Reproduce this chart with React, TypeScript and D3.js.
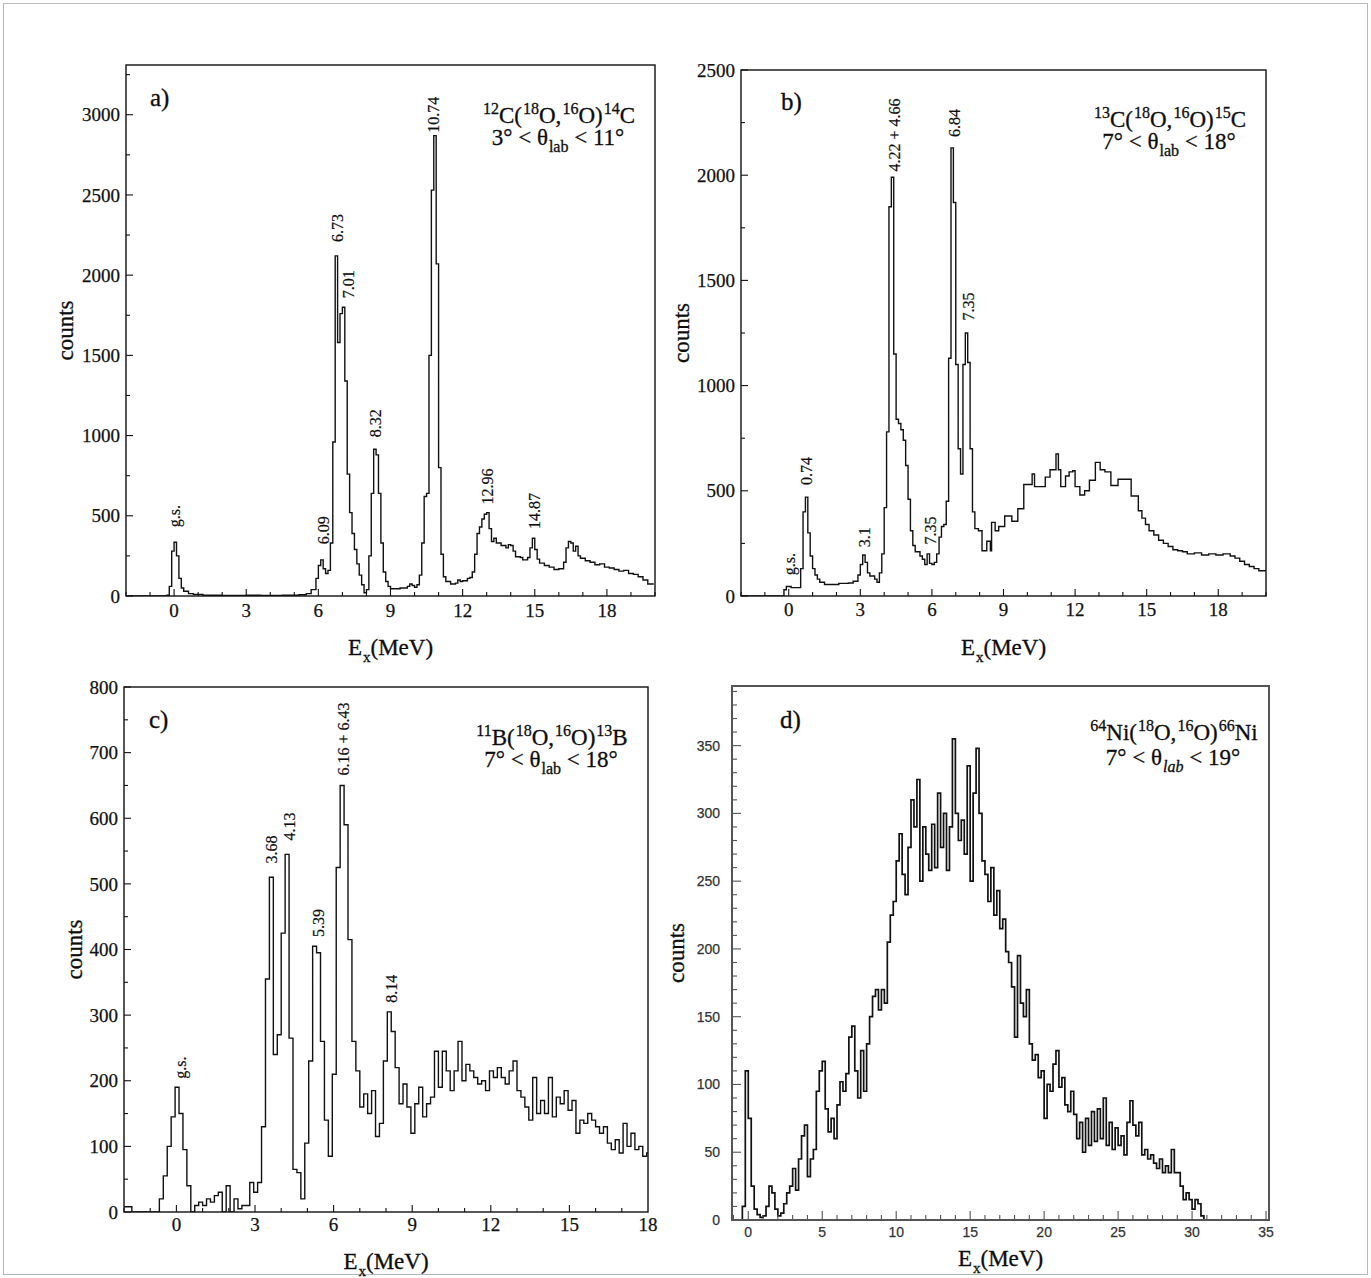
import React from 'react';
import { scaleLinear, line, curveStepAfter, range } from 'd3';

const SERIF = '"Liberation Serif", "Times New Roman", Times, serif';
const SANS = '"Liberation Sans", Arial, Helvetica, sans-serif';

type Pt = [number, number];
type Part = [string, 'n' | 'sup' | 'sub', boolean?];

// ---------- a) 12C(18O,16O)14C : [bin start (MeV), counts] ----------
const aSpectrum: Pt[] = [
  [-2.0, 0], [-0.3, 5], [-0.2, 60], [-0.1, 280], [0.0, 335], [0.1, 250], [0.2, 110], [0.3, 50], [0.4, 30], [0.6, 15],
  [0.8, 10], [1.2, 5], [2.0, 3], [3.0, 5], [3.6, 3], [4.5, 5], [5.2, 8], [5.5, 15], [5.7, 40], [5.9, 110],
  [6.0, 190], [6.1, 225], [6.2, 170], [6.3, 140], [6.4, 160], [6.5, 330], [6.6, 960], [6.7, 2120], [6.8, 1580], [6.9, 1760],
  [7.0, 1800], [7.1, 1340], [7.2, 760], [7.3, 520], [7.4, 390], [7.5, 290], [7.6, 200], [7.7, 130], [7.8, 70], [7.9, 20],
  [8.0, 40], [8.1, 250], [8.2, 640], [8.3, 915], [8.4, 880], [8.5, 640], [8.6, 330], [8.7, 150], [8.8, 90], [8.9, 60],
  [9.0, 45], [9.4, 50], [9.7, 60], [9.8, 75], [9.9, 65], [10.0, 55], [10.1, 70], [10.2, 130], [10.3, 330], [10.4, 620],
  [10.5, 640], [10.6, 1500], [10.7, 2530], [10.8, 2870], [10.9, 2070], [11.0, 800], [11.1, 260], [11.2, 120], [11.3, 90], [11.5, 75],
  [11.7, 80], [11.8, 100], [11.9, 90], [12.0, 95], [12.2, 110], [12.3, 115], [12.4, 150], [12.5, 260], [12.6, 390], [12.7, 430],
  [12.8, 480], [12.9, 510], [13.0, 520], [13.1, 420], [13.2, 340], [13.3, 360], [13.4, 330], [13.6, 315], [13.8, 300], [13.9, 320],
  [14.0, 315], [14.1, 280], [14.2, 245], [14.4, 240], [14.5, 225], [14.7, 240], [14.8, 300], [14.9, 360], [15.0, 290], [15.1, 230],
  [15.2, 205], [15.4, 190], [15.6, 180], [15.8, 165], [16.0, 170], [16.2, 210], [16.3, 300], [16.4, 340], [16.5, 330], [16.6, 280],
  [16.7, 310], [16.8, 250], [16.9, 235], [17.1, 220], [17.3, 210], [17.5, 195], [17.7, 200], [17.9, 180], [18.1, 175], [18.3, 165],
  [18.5, 155], [18.7, 160], [18.9, 140], [19.1, 135], [19.3, 120], [19.5, 100], [19.7, 75],
];
const aEnd = 19.95;
const aXTicks = [0, 3, 6, 9, 12, 15, 18];
const aYTicks = [0, 500, 1000, 1500, 2000, 2500, 3000];
const aPeakText = ['g.s.', '6.09', '6.73', '7.01', '8.32', '10.74', '12.96', '14.87'];
const aPeakEx = [0.03, 6.2, 6.8, 7.24, 8.38, 10.79, 13.03, 14.98];
const aPeakY = [429, 322, 2207, 1856, 989, 2888, 571, 417];

// ---------- b) 13C(18O,16O)15C ----------
const bSpectrum: Pt[] = [
  [-2.0, 0], [-0.2, 30], [-0.1, 45], [0.1, 40], [0.3, 40], [0.5, 130], [0.6, 400], [0.7, 470], [0.8, 300], [0.9, 190],
  [1.0, 130], [1.1, 100], [1.2, 80], [1.3, 65], [1.5, 55], [1.8, 55], [2.1, 60], [2.5, 62], [2.7, 70], [2.9, 100],
  [3.0, 150], [3.1, 195], [3.2, 160], [3.3, 110], [3.4, 95], [3.6, 80], [3.7, 65], [3.8, 110], [3.9, 200], [4.0, 420],
  [4.1, 780], [4.2, 1850], [4.3, 1990], [4.4, 1150], [4.5, 840], [4.6, 820], [4.7, 790], [4.8, 740], [4.9, 620], [5.0, 460],
  [5.1, 310], [5.2, 240], [5.3, 210], [5.5, 190], [5.6, 175], [5.7, 150], [5.8, 200], [5.9, 155], [6.0, 150], [6.1, 160],
  [6.2, 200], [6.3, 280], [6.4, 330], [6.5, 340], [6.6, 450], [6.7, 1130], [6.8, 2130], [6.9, 1870], [7.0, 1100], [7.1, 700],
  [7.2, 580], [7.3, 1100], [7.4, 1250], [7.5, 1110], [7.6, 700], [7.7, 400], [7.8, 320], [7.95, 310], [8.1, 215], [8.3, 260],
  [8.45, 215], [8.5, 350], [8.65, 310], [8.8, 330], [9.05, 380], [9.35, 355], [9.6, 415], [9.85, 530], [10.2, 580], [10.3, 520],
  [10.75, 565], [10.95, 600], [11.2, 675], [11.3, 600], [11.4, 520], [11.6, 570], [11.75, 590], [11.9, 595], [12.0, 520], [12.2, 480],
  [12.4, 500], [12.6, 550], [12.85, 635], [13.05, 600], [13.25, 590], [13.5, 525], [13.8, 555], [14.35, 475], [14.65, 405], [14.8, 370],
  [14.95, 340], [15.1, 310], [15.3, 290], [15.5, 265], [15.7, 250], [15.9, 235], [16.1, 220], [16.3, 215], [16.5, 210], [16.7, 200],
  [17.0, 205], [17.3, 195], [17.6, 200], [17.9, 195], [18.2, 200], [18.5, 190], [18.7, 180], [18.9, 165], [19.1, 150], [19.3, 140],
  [19.5, 130], [19.7, 120],
];
const bEnd = 20;
const bXTicks = [0, 3, 6, 9, 12, 15, 18];
const bYTicks = [0, 500, 1000, 1500, 2000, 2500];
const bPeakText = ['g.s.', '0.74', '3.1', '4.22 + 4.66', '7.35', '6.84', '7.35'];
const bPeakEx = [0.03, 0.73, 3.18, 4.41, 5.92, 6.95, 7.53];
const bPeakY = [99, 527, 232, 2018, 245, 2182, 1310];

// ---------- c) 11B(18O,16O)13B : bins of 0.15 MeV from -2 MeV ----------
const cStart = -2.0;
const cWidth = 0.15;
const cCounts = [
  8, 8, 0, 0, 0, 0, 0, 0, 0, 20,
  55, 100, 145, 190, 150, 95, 40, 0, 10, 15,
  10, 20, 15, 25, 30, 0, 40, 0, 20, 5,
  10, 10, 45, 30, 45, 130, 355, 510, 240, 270,
  425, 545, 265, 65, 60, 20, 105, 230, 405, 395,
  260, 140, 85, 210, 525, 650, 590, 415, 260, 215,
  160, 180, 150, 185, 115, 135, 230, 305, 275, 220,
  165, 195, 160, 120, 165, 190, 145, 165, 175, 245,
  190, 245, 215, 185, 215, 260, 200, 225, 215, 205,
  195, 200, 185, 215, 205, 220, 205, 195, 215, 230,
  185, 175, 160, 140, 205, 150, 170, 150, 205, 145,
  175, 165, 185, 155, 170, 120, 140, 135, 150, 140,
  130, 120, 130, 105, 95, 110, 90, 135, 100, 120,
  95, 100, 85, 90,
];
const cXTicks = [0, 3, 6, 9, 12, 15, 18];
const cYTicks = [0, 100, 200, 300, 400, 500, 600, 700, 800];
const cPeakText = ['g.s.', '3.68', '4.13', '5.39', '6.16 + 6.43', '8.14'];
const cPeakEx = [0.17, 3.62, 4.3, 5.42, 6.38, 8.2];
const cPeakY = [203, 531, 566, 419, 665, 319];

// ---------- d) 64Ni(18O,16O)66Ni : bins of 0.2 MeV from -1 MeV ----------
const dStart = -1.0;
const dWidth = 0.2;
const dCounts = [
  0, 0, 0, 10, 110, 75, 25, 8, 4, 2,
  3, 10, 25, 20, 8, 3, 5, 12, 20, 25,
  38, 22, 45, 62, 70, 32, 45, 52, 95, 110,
  117, 82, 65, 75, 60, 85, 102, 95, 108, 135,
  143, 110, 90, 125, 95, 130, 150, 165, 170, 155,
  170, 160, 205, 225, 235, 265, 285, 255, 240, 275,
  310, 290, 325, 250, 290, 270, 258, 292, 260, 315,
  275, 300, 258, 290, 355, 300, 280, 295, 270, 335,
  250, 315, 348, 300, 265, 255, 235, 260, 225, 243,
  215, 222, 198, 190, 172, 135, 195, 160, 150, 170,
  130, 118, 122, 105, 110, 75, 100, 95, 115, 125,
  98, 105, 85, 80, 95, 78, 60, 72, 50, 75,
  55, 80, 58, 82, 60, 90, 55, 72, 52, 68,
  55, 62, 48, 72, 88, 70, 62, 72, 48, 52,
  45, 48, 42, 38, 45, 35, 40, 35, 52, 35,
  35, 25, 15, 20, 15, 8, 15, 12, 3, 0,
  0, 0, 0, 0, 0,
];
const dXTicks = [0, 5, 10, 15, 20, 25, 30, 35];
const dYTicks = [0, 50, 100, 150, 200, 250, 300, 350];

const toBins = (start: number, width: number, counts: number[]): Pt[] =>
  counts.map((c, i) => [start + i * width, c] as Pt);

const reactA: Part[] = [['12', 'sup'], ['C(', 'n'], ['18', 'sup'], ['O,', 'n'], ['16', 'sup'], ['O)', 'n'], ['14', 'sup'], ['C', 'n']];
const angleA: Part[] = [['3° < θ', 'n'], ['lab', 'sub'], [' < 11°', 'n']];
const reactB: Part[] = [['13', 'sup'], ['C(', 'n'], ['18', 'sup'], ['O,', 'n'], ['16', 'sup'], ['O)', 'n'], ['15', 'sup'], ['C', 'n']];
const angleB: Part[] = [['7° < θ', 'n'], ['lab', 'sub'], [' < 18°', 'n']];
const reactC: Part[] = [['11', 'sup'], ['B(', 'n'], ['18', 'sup'], ['O,', 'n'], ['16', 'sup'], ['O)', 'n'], ['13', 'sup'], ['B', 'n']];
const angleC: Part[] = [['7° < θ', 'n'], ['lab', 'sub'], [' < 18°', 'n']];
const reactD: Part[] = [['64', 'sup'], ['Ni(', 'n'], ['18', 'sup'], ['O,', 'n'], ['16', 'sup'], ['O)', 'n'], ['66', 'sup'], ['Ni', 'n']];
const angleD: Part[] = [['7° < θ', 'n'], ['lab', 'sub', true], [' < 19°', 'n']];

const INK = '#0d0d0d';

const Rich = ({ parts, x, y, size, small }: { parts: Part[]; x: number; y: number; size: number; small: number }) => {
  let cur = 0;
  return (
    <text x={x} y={y} textAnchor="middle" fontFamily={SERIF} fontSize={size} fill={INK}
      stroke={INK} strokeWidth={0.3} style={{ whiteSpace: 'pre' }}>
      {parts.map(([t, k, it], i) => {
        const target = k === 'sup' ? -size * 0.4 : k === 'sub' ? size * 0.3 : 0;
        const dy = target - cur;
        cur = target;
        return (
          <tspan key={i} dy={dy} dx={k === 'n' ? 0 : 1} fontSize={k === 'n' ? size : small}
            fontStyle={it ? 'italic' : undefined}>{t}</tspan>
        );
      })}
    </text>
  );
};

type PanelProps = {
  id: string;
  left: number; right: number; top: number; bottom: number;
  xDomain: [number, number]; yDomain: [number, number];
  xTicks: number[]; yTicks: number[]; xMinorStep: number; yMinorStep: number;
  spectrum: Pt[]; end: number; lineWidth: number;
  peakText: string[]; peakEx: number[]; peakY: number[];
  letter: string; letterX: number; letterY: number;
  react: Part[]; angle: Part[]; textDx: number; line1Dy: number; line2Dy: number;
  countsX: number; titleDy: number;
  tickFont: string; tickFontSize: number; tickColor: string; yLabelGap: number; xLabelDy: number;
  majorLen: number; minorLen: number; frameColor: string; frameWidth: number;
};

const Panel = (p: PanelProps) => {
  const x = scaleLinear().domain(p.xDomain).range([p.left, p.right]);
  const y = scaleLinear().domain(p.yDomain).range([p.bottom, p.top]);
  const last = p.spectrum[p.spectrum.length - 1];
  const pts: Pt[] = [...p.spectrum, [p.end, last[1]]];
  const path = line<Pt>().x(d => x(d[0])).y(d => y(d[1])).curve(curveStepAfter)(pts) || '';
  const isMajor = (v: number, majors: number[]) => majors.some(m => Math.abs(m - v) < 1e-6);
  const xMinor = range(Math.ceil(p.xDomain[0] / p.xMinorStep) * p.xMinorStep, p.xDomain[1] + 1e-6, p.xMinorStep)
    .filter(v => !isMajor(v, p.xTicks));
  const yMinor = range(p.yDomain[0], p.yDomain[1] + 1e-6, p.yMinorStep).filter(v => !isMajor(v, p.yTicks));
  const cx = (p.left + p.right) / 2;
  const cy = (p.top + p.bottom) / 2;
  return (
    <g>
      <defs>
        <clipPath id={`clip-${p.id}`}>
          <rect x={p.left} y={p.top - 2} width={p.right - p.left} height={p.bottom - p.top + 2} />
        </clipPath>
      </defs>
      <path d={path} fill="none" stroke="#111" strokeWidth={p.lineWidth} clipPath={`url(#clip-${p.id})`} />
      <g stroke={p.frameColor} strokeWidth={1.1}>
        {p.xTicks.filter(v => x(v) > p.left + 1 && x(v) < p.right - 1).map(v => (
          <line key={`xt${v}`} x1={x(v)} x2={x(v)} y1={p.bottom} y2={p.bottom - p.majorLen} />
        ))}
        {xMinor.map(v => (
          <line key={`xm${v}`} x1={x(v)} x2={x(v)} y1={p.bottom} y2={p.bottom - p.minorLen} />
        ))}
        {p.yTicks.map(v => (
          <line key={`yt${v}`} x1={p.left} x2={p.left + p.majorLen} y1={y(v)} y2={y(v)} />
        ))}
        {yMinor.map(v => (
          <line key={`ym${v}`} x1={p.left} x2={p.left + p.minorLen} y1={y(v)} y2={y(v)} />
        ))}
      </g>
      <rect x={p.left} y={p.top} width={p.right - p.left} height={p.bottom - p.top}
        fill="none" stroke={p.frameColor} strokeWidth={p.frameWidth} />
      <g fontFamily={p.tickFont} fontSize={p.tickFontSize} fill={p.tickColor} stroke={p.tickColor} strokeWidth={0.25}>
        {p.xTicks.map(v => (
          <text key={`xl${v}`} x={x(v)} y={p.bottom + p.xLabelDy} textAnchor="middle">{v}</text>
        ))}
        {p.yTicks.map(v => (
          <text key={`yl${v}`} x={p.left - p.yLabelGap} y={y(v)} dy="0.35em" textAnchor="end">{v}</text>
        ))}
      </g>
      <g fontFamily={SERIF} fontSize={16} fill={INK} stroke={INK} strokeWidth={0.2}>
        {p.peakText.map((t, i) => (
          <text key={`pk${i}`} transform={`translate(${x(p.peakEx[i])},${y(p.peakY[i])}) rotate(-90)`} dy="0.35em">{t}</text>
        ))}
      </g>
      <text x={p.left + p.letterX} y={p.top + p.letterY} fontFamily={SERIF} fontSize={25} fill={INK}
        stroke={INK} strokeWidth={0.3}>{p.letter}</text>
      <Rich parts={p.react} x={p.right - p.textDx} y={p.top + p.line1Dy} size={23} small={16} />
      <Rich parts={p.angle} x={p.right - p.textDx} y={p.top + p.line2Dy} size={23} small={16} />
      <text transform={`translate(${p.countsX},${cy}) rotate(-90)`} dy="0.25em" textAnchor="middle"
        fontFamily={SERIF} fontSize={23} fill={INK} stroke={INK} strokeWidth={0.3}>counts</text>
      <Rich parts={[['E', 'n'], ['x', 'sub'], ['(MeV)', 'n']]} x={cx} y={p.bottom + p.titleDy} size={23} small={15} />
    </g>
  );
};

const common = {
  xMinorStep: 1, lineWidth: 1.4,
  tickFont: SERIF, tickFontSize: 19, tickColor: '#111', yLabelGap: 6,
  majorLen: 7, minorLen: 4, frameColor: '#111', frameWidth: 1.4,
  textDx: 97, line1Dy: 58, line2Dy: 80,
};

const App = () => (
  <svg width={1371} height={1278} style={{ position: 'absolute', left: 0, top: 0, display: 'block', background: '#fff' }}>
    <rect x={3.5} y={3.5} width={1364} height={1271} fill="none" stroke="#b8b8b8" strokeWidth={1} />
    <Panel {...common} id="a" left={126} right={655} top={65} bottom={596}
      xDomain={[-2, 20]} yDomain={[0, 3310]} xTicks={aXTicks} yTicks={aYTicks} yMinorStep={250}
      spectrum={aSpectrum} end={aEnd} peakText={aPeakText} peakEx={aPeakEx} peakY={aPeakY}
      letter="a)" letterX={24} letterY={41} react={reactA} angle={angleA}
      countsX={67} titleDy={59} xLabelDy={21} />
    <Panel {...common} id="b" left={741} right={1266} top={70} bottom={596}
      xDomain={[-2, 20]} yDomain={[0, 2500]} xTicks={bXTicks} yTicks={bYTicks} yMinorStep={250}
      spectrum={bSpectrum} end={bEnd} peakText={bPeakText} peakEx={bPeakEx} peakY={bPeakY}
      letter="b)" letterX={40} letterY={40} react={reactB} angle={angleB}
      countsX={683} titleDy={59} xLabelDy={20} line1Dy={57} line2Dy={79} />
    <Panel {...common} id="c" left={124} right={648} top={687} bottom={1212}
      xDomain={[-2, 18]} yDomain={[0, 800]} xTicks={cXTicks} yTicks={cYTicks} yMinorStep={50}
      spectrum={toBins(cStart, cWidth, cCounts)} end={cStart + cCounts.length * cWidth}
      peakText={cPeakText} peakEx={cPeakEx} peakY={cPeakY}
      letter="c)" letterX={25} letterY={41} react={reactC} angle={angleC}
      countsX={76} titleDy={57} xLabelDy={19} />
    <Panel {...common} id="d" left={732} right={1269} top={686} bottom={1220}
      xDomain={[-1.1, 35.2]} yDomain={[0, 394]} xTicks={dXTicks} yTicks={dYTicks} yMinorStep={10}
      spectrum={toBins(dStart, dWidth, dCounts)} end={dStart + dCounts.length * dWidth}
      lineWidth={1.7}
      peakText={[]} peakEx={[]} peakY={[]}
      letter="d)" letterX={48} letterY={42} react={reactD} angle={angleD}
      countsX={678} titleDy={46} xLabelDy={17}
      tickFont={SANS} tickFontSize={14} tickColor="#333" yLabelGap={12}
      majorLen={9} minorLen={5} frameColor="#555" frameWidth={2}
      textDx={96} line1Dy={54} line2Dy={79} />
  </svg>
);

export default App;
